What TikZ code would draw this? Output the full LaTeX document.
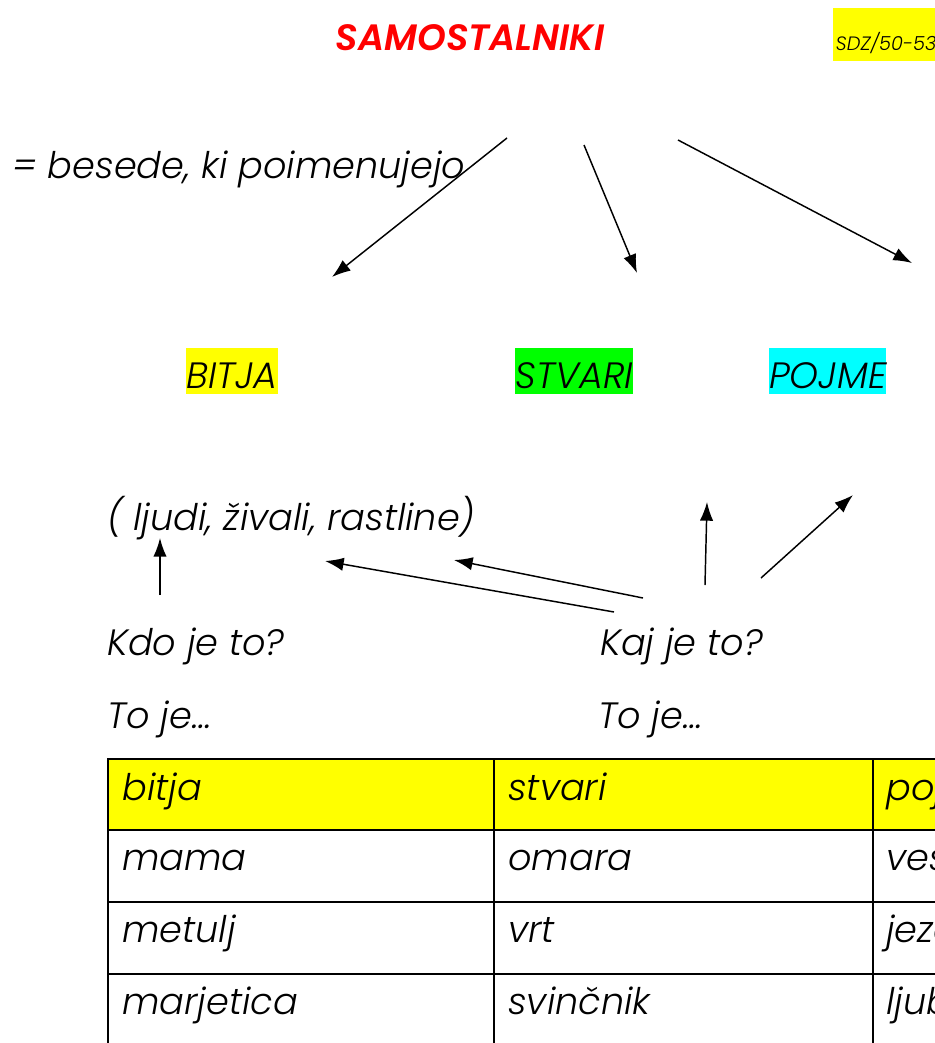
\documentclass[tikz,border=0pt]{standalone}
\usepackage{fontspec}
\setmainfont{Poppins}[ItalicFont={Poppins Light Italic},BoldItalicFont={Poppins SemiBold Italic}]
\usepackage{tikz}
\usetikzlibrary{arrows.meta}
\usepackage{xcolor}
\definecolor{hlyellow}{RGB}{255,255,0}
\definecolor{hlgreen}{RGB}{0,255,0}
\definecolor{hlcyan}{RGB}{0,255,255}
\definecolor{titlered}{RGB}{255,0,0}

\tikzset{
  txt/.style={anchor=base west,inner sep=0pt,font=\fontsize{27.5}{32}\selectfont\itshape},
  hl/.style={txt,text height=30pt,text depth=4.5pt},
  arr/.style={line width=1.1pt,-{Latex[length=14pt,width=10pt]}},
  grid/.style={line width=1.6pt}
}

\begin{document}
\begin{tikzpicture}[x=0.75pt,y=0.75pt,yscale=-1,xscale=1]
\useasboundingbox (0,0) rectangle (935,1043);
\clip (0,0) rectangle (935,1043);

% Title
\node (title) [anchor=base,inner sep=0pt,text=titlered,font=\fontsize{27.5}{32}\selectfont\bfseries\itshape] at (470,50) {SAMOSTALNIKI};
\node (sdz) [anchor=base west,inner sep=0pt,fill=hlyellow,text height=31.5pt,text depth=8pt,font=\fontsize{14.5}{17}\selectfont\itshape] at (833,50) {\hspace{2pt}SDZ/50-53\hspace{6pt}};

% Text Node
\node (besede) [txt] at (12,178) {= besede, ki poimenujejo};

% Highlighted words
\node (bitja) [hl,fill=hlyellow] at (186,388) {BITJA};
\node (stvari) [hl,fill=hlgreen] at (515,388) {STVARI};
\node (pojme) [hl,fill=hlcyan] at (769,388) {POJME};

\node (primeri) [txt] at (107,530) {( ljudi, živali, rastline)};
\node (kdo) [txt] at (107,655) {Kdo je to?};
\node (kaj) [txt] at (600,655) {Kaj je to?};
\node (toje1) [txt] at (107,728) {To je…};
\node (toje2) [txt] at (598,728) {To je…};

% arrow ends
\coordinate (s1) at (507,138);  \coordinate (e1) at (332,277);
\coordinate (s2) at (584,145);  \coordinate (e2) at (637,273);
\coordinate (s3) at (678,140);  \coordinate (e3) at (912,263);
\coordinate (s4) at (160,595);  \coordinate (e4) at (160,538);
\coordinate (s5) at (614,612);  \coordinate (e5) at (325,561);
\coordinate (s6) at (643,598);  \coordinate (e6) at (454,560);
\coordinate (s7) at (705,585);  \coordinate (e7) at (707,502);
\coordinate (s8) at (761,578);  \coordinate (e8) at (853,495);

%Straight Lines
\foreach \i in {1,...,8}
  \draw [arr] (s\i) -- (e\i);

%Shape: Table
\fill [hlyellow] (108,759) rectangle (940,830);
\draw [grid] (108,1050) -- (108,759) -- (940,759);
\draw [grid] (108,830) -- (940,830);
\draw [grid] (108,902) -- (940,902);
\draw [grid] (108,974) -- (940,974);
\draw [grid] (494,759) -- (494,1050);
\draw [grid] (873,759) -- (873,1050);

% Table cells
\node (h1) [txt] at (122,800) {bitja};
\node (h2) [txt] at (508,800) {stvari};
\node (h3) [txt] at (886,800) {pojme};
\node (a1) [txt] at (122,870) {mama};
\node (a2) [txt] at (508,870) {omara};
\node (a3) [txt] at (886,870) {veselje};
\node (b1) [txt] at (122,942) {metulj};
\node (b2) [txt] at (508,942) {vrt};
\node (b3) [txt] at (886,942) {jeza};
\node (c1) [txt] at (122,1014) {marjetica};
\node (c2) [txt] at (508,1014) {svinčnik};
\node (c3) [txt] at (886,1014) {ljubezen};

\end{tikzpicture}
\end{document}
